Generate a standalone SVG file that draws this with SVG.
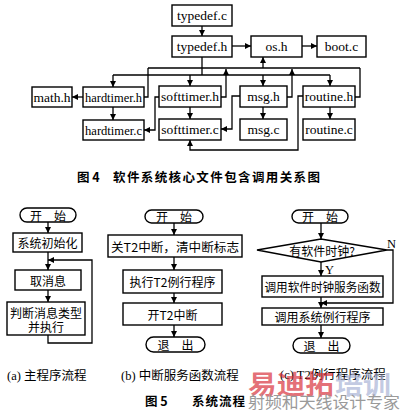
<svg xmlns="http://www.w3.org/2000/svg" width="400" height="420" viewBox="0 0 400 420">
<style>
.b{fill:#fff;stroke:#000;stroke-width:1.4}
.c{fill:none;stroke:#000;stroke-width:1.3}
.t{font-family:"Liberation Serif","Noto Sans CJK SC",serif;font-size:13.5px;fill:#000;text-anchor:middle;dominant-baseline:central}
.z{font-family:"Noto Sans CJK SC","Liberation Serif",sans-serif;font-size:12px;fill:#000;text-anchor:middle;dominant-baseline:central}
.cap{font-family:"Liberation Serif","Noto Sans CJK SC",serif;font-size:12.5px;fill:#000}
.bold{font-family:"Noto Sans CJK SC",sans-serif;font-weight:bold;font-size:12.5px;fill:#000}
</style>
<defs>
<marker id="a" viewBox="0 0 10 10" refX="10" refY="5" markerWidth="6" markerHeight="6" markerUnits="userSpaceOnUse" orient="auto">
<path d="M0,0L10,5L0,10z" fill="#000"/>
</marker>
</defs>
<rect width="400" height="420" fill="#fff"/>

<g id="connectors-fig4" class="c">
<path d="M202,26V36" marker-end="url(#a)"/>
<path d="M232,46H251" marker-end="url(#a)"/>
<path d="M302,46H317" marker-end="url(#a)"/>
<path d="M148,68H360"/>
<path d="M144,97H148V68"/>
<path d="M221,97H226V69" marker-end="url(#a)"/>
<path d="M287,97H292V69" marker-end="url(#a)"/>
<path d="M355,97H360V68"/>
<path d="M263,68V57" marker-end="url(#a)"/>
<path d="M113,75H330"/>
<path d="M202,57V75"/>
<path d="M113,75V87" marker-end="url(#a)"/>
<path d="M190,75V86" marker-end="url(#a)"/>
<path d="M263,75V86" marker-end="url(#a)"/>
<path d="M330,75V86" marker-end="url(#a)"/>
<path d="M83,97H72" marker-end="url(#a)"/>
<path d="M113,107V120" marker-end="url(#a)"/>
<path d="M190,107V119" marker-end="url(#a)"/>
<path d="M263,107V119" marker-end="url(#a)"/>
<path d="M330,107V119" marker-end="url(#a)"/>
<path d="M159,97H155V130H144" marker-end="url(#a)"/>
<path d="M240,96H232V129H221" marker-end="url(#a)"/>
<path d="M303,96H298V150H190V140" marker-end="url(#a)"/>
</g>

<g id="typedef_c"><rect class="b" x="172" y="5" width="60" height="21"/><text class="t" x="202" y="15.5">typedef.c</text></g>
<g id="typedef_h"><rect class="b" x="172" y="36" width="60" height="21"/><text class="t" x="202" y="46.5">typedef.h</text></g>
<g id="os_h"><rect class="b" x="251" y="36" width="51" height="21"/><text class="t" x="276.5" y="46.5">os.h</text></g>
<g id="boot_c"><rect class="b" x="317" y="36" width="49" height="21"/><text class="t" x="341.5" y="46.5">boot.c</text></g>
<g id="math_h"><rect class="b" x="32" y="87" width="40" height="20"/><text class="t" x="52" y="97">math.h</text></g>
<g id="hardtimer_h"><rect class="b" x="83" y="87" width="61" height="20"/><text class="t" x="113.5" y="97" textLength="57" lengthAdjust="spacingAndGlyphs">hardtimer.h</text></g>
<g id="hardtimer_c"><rect class="b" x="83" y="120" width="61" height="20"/><text class="t" x="113.5" y="130" textLength="57" lengthAdjust="spacingAndGlyphs">hardtimer.c</text></g>
<g id="softtimer_h"><rect class="b" x="159" y="86" width="62" height="21"/><text class="t" x="190" y="96.5">softtimer.h</text></g>
<g id="softtimer_c"><rect class="b" x="159" y="119" width="62" height="21"/><text class="t" x="190" y="129.5">softtimer.c</text></g>
<g id="msg_h"><rect class="b" x="240" y="86" width="47" height="21"/><text class="t" x="263.5" y="96.5">msg.h</text></g>
<g id="msg_c"><rect class="b" x="240" y="119" width="47" height="21"/><text class="t" x="263.5" y="129.5">msg.c</text></g>
<g id="routine_h"><rect class="b" x="303" y="86" width="52" height="21"/><text class="t" x="329" y="96.5">routine.h</text></g>
<g id="routine_c"><rect class="b" x="303" y="119" width="52" height="21"/><text class="t" x="329" y="129.5">routine.c</text></g>

<text class="bold" x="77" y="182">图 4</text>
<text class="bold" x="113" y="182" textLength="207" lengthAdjust="spacing">软件系统核心文件包含调用关系图</text>

<g id="connectors-fig5" class="c">
<path d="M48,222V233" marker-end="url(#a)"/>
<path d="M48,252V270" marker-end="url(#a)"/>
<path d="M48,290V302" marker-end="url(#a)"/>
<path d="M48,335V343H92V260H48" marker-end="url(#a)"/>
<path d="M174,223V235" marker-end="url(#a)"/>
<path d="M174,257V270" marker-end="url(#a)"/>
<path d="M174,293V303" marker-end="url(#a)"/>
<path d="M174,325V337" marker-end="url(#a)"/>
<path d="M321,223V239" marker-end="url(#a)"/>
<path d="M321,262V276" marker-end="url(#a)"/>
<path d="M387,250H393V303H321" marker-end="url(#a)"/>
<path d="M321,297V308" marker-end="url(#a)"/>
<path d="M321,325V338" marker-end="url(#a)"/>
</g>

<g id="a_start"><rect class="b" x="20" y="208" width="56" height="14" rx="7"/><text class="z" x="48" y="215">开　始</text></g>
<g id="a_init"><rect class="b" x="13" y="233" width="69" height="19"/><text class="z" x="47.5" y="242.5" font-size="12.5">系统初始化</text></g>
<g id="a_fetch"><rect class="b" x="15" y="270" width="66" height="20"/><text class="z" x="48" y="280">取消息</text></g>
<g id="a_judge"><rect class="b" x="7" y="302" width="78" height="33"/><text class="z" x="46" y="312">判断消息类型</text><text class="z" x="46" y="326">并执行</text></g>
<text class="cap" x="7" y="380">(a) 主程序流程</text>

<g id="b_start"><rect class="b" x="145" y="210" width="58" height="13" rx="6.5"/><text class="z" x="174" y="216.5">开　始</text></g>
<g id="b_close"><rect class="b" x="108" y="235" width="134" height="22"/><text class="z" x="175" y="246" textLength="128" lengthAdjust="spacingAndGlyphs">关T2中断，清中断标志</text></g>
<g id="b_exec"><rect class="b" x="123" y="270" width="99" height="23"/><text class="z" x="172.5" y="281.5">执行T2例行程序</text></g>
<g id="b_open"><rect class="b" x="123" y="303" width="99" height="22"/><text class="z" x="172.5" y="314">开T2中断</text></g>
<g id="b_exit"><rect class="b" x="146" y="337" width="59" height="15" rx="7.5"/><text class="z" x="175.5" y="344.5">退　出</text></g>
<text class="cap" x="121" y="380">(b) 中断服务函数流程</text>

<g id="c_start"><rect class="b" x="292" y="210" width="56" height="13" rx="6.5"/><text class="z" x="320" y="216.5">开　始</text></g>
<g id="c_dec"><polygon class="b" points="257,250 321,239 387,250 321,262"/><text class="z" x="322" y="250.5">有软件时钟?</text></g>
<text class="cap" x="387" y="248">N</text>
<text class="cap" x="325" y="274">Y</text>
<g id="c_call"><rect class="b" x="262" y="276" width="121" height="21"/><text class="z" x="322.5" y="286.5" textLength="116" lengthAdjust="spacingAndGlyphs">调用软件时钟服务函数</text></g>
<g id="c_sys"><rect class="b" x="262" y="308" width="121" height="17"/><text class="z" x="322.5" y="316.5">调用系统例行程序</text></g>
<g id="c_exit"><rect class="b" x="293" y="338" width="57" height="15" rx="7.5"/><text class="z" x="321.5" y="345.5">退　出</text></g>
<text class="cap" x="280" y="379">(c) T2例行程序流程</text>

<g id="watermark" font-family="Noto Sans CJK SC,sans-serif" font-weight="bold">
<text x="248" y="394" font-size="26" fill="#d8313b" fill-opacity="0.7" textLength="86" lengthAdjust="spacingAndGlyphs">易迪拓</text>
<text x="335" y="394" font-size="25" fill="#a9b3d6" fill-opacity="0.7" textLength="56" lengthAdjust="spacingAndGlyphs">培训</text>
</g>
<text class="bold" x="145" y="406">图 5</text>
<text class="bold" x="192" y="406" letter-spacing="1">系统流程</text>
<text x="248" y="408" font-family="Noto Sans CJK SC,sans-serif" font-size="16" fill="#9a9a9a" textLength="152" lengthAdjust="spacingAndGlyphs">射频和天线设计专家</text>
</svg>
